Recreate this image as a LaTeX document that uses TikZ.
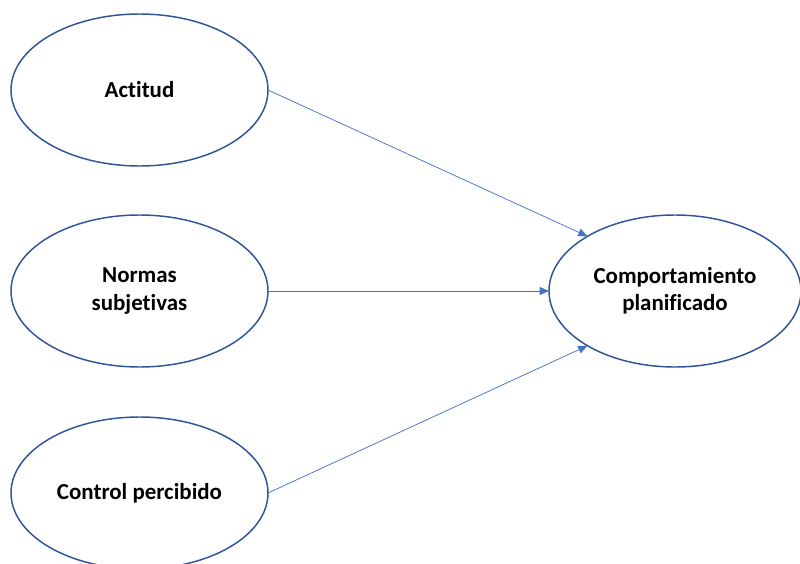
\documentclass[tikz,border=0pt]{standalone}
\usepackage{fontspec}
\setmainfont[Ligatures={NoCommon,NoContextual}]{Carlito}
\usetikzlibrary{shapes.geometric,arrows.meta}
\definecolor{edgeblue}{HTML}{2F5597}
\definecolor{linkblue}{HTML}{4472C4}
\begin{document}
\begin{tikzpicture}[x=0.75pt,y=-0.75pt,
  concept/.style={ellipse,draw=edgeblue,line width=1.1pt,fill=white,
    minimum width=192.75pt,minimum height=114pt,inner sep=0pt,outer sep=0pt,
    align=center,font=\fontsize{17.2}{20.5}\selectfont\bfseries},
  link/.style={draw=linkblue,line width=0.55pt,-{Triangle[length=7pt,width=6pt]}}]
\useasboundingbox (0,0) rectangle (800,564);
\node[concept] (a) at (139.5,90) {\raisebox{-1.5pt}{Actitud}};
\node[concept] (n) at (139.5,291) {Normas\\subjetivas};
\node[concept] (p) at (139.5,493) {\raisebox{-1.5pt}{Control percibido}};
\node[concept,minimum width=189pt] (c) at (675,291) {Comportamiento\\planificado};
\draw[link] (a.east) -- (c.148);
\draw[link] (n.east) -- (c.west);
\draw[link] (p.east) -- (c.212);
\end{tikzpicture}
\end{document}
